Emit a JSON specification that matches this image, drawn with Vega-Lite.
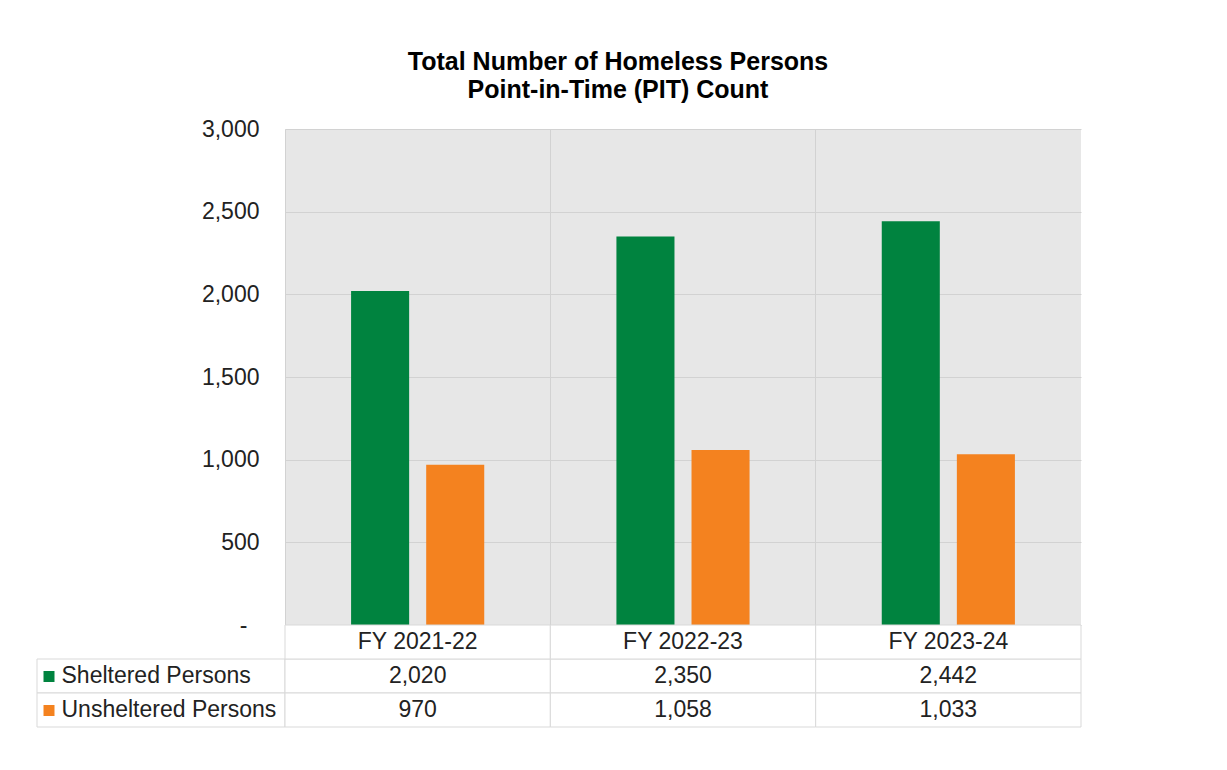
{
  "$schema": "https://vega.github.io/schema/vega-lite/v6.json",
  "padding": {"left": 36, "top": 50, "right": 0, "bottom": 0},
  "background": "white",
  "config": {"font": "Liberation Sans", "view": {"stroke": null}},
  "title": {
    "text": ["Total Number of Homeless Persons", "Point-in-Time (PIT) Count"],
    "fontSize": 25, "fontWeight": "bold", "font": "Liberation Sans", "color": "#000000",
    "anchor": "middle", "dx": 59, "offset": 15, "lineHeight": 28
  },
  "datasets": {
    "pit": [
      {"year": "FY 2021-22", "series": "Sheltered Persons", "value": 2020},
      {"year": "FY 2021-22", "series": "Unsheltered Persons", "value": 970},
      {"year": "FY 2022-23", "series": "Sheltered Persons", "value": 2350},
      {"year": "FY 2022-23", "series": "Unsheltered Persons", "value": 1058},
      {"year": "FY 2023-24", "series": "Sheltered Persons", "value": 2442},
      {"year": "FY 2023-24", "series": "Unsheltered Persons", "value": 1033}
    ],
    "blank": [{"t": ""}]
  },
  "columns": 2,
  "spacing": 0,
  "bounds": "flush",
  "concat": [
    {
      "width": 248, "height": 496,
      "data": {"name": "blank"},
      "mark": {"type": "text"},
      "encoding": {"text": {"field": "t"}}
    },
    {
      "width": 796, "height": 496,
      "data": {"name": "pit"},
      "view": {"fill": "#e7e7e7", "stroke": null},
      "mark": {"type": "bar"},
      "encoding": {
        "x": {"field": "year", "type": "nominal",
              "scale": {"paddingInner": 0, "paddingOuter": 0},
              "axis": {"title": null, "labels": false, "ticks": false, "domain": false,
                       "grid": true, "bandPosition": 0, "gridColor": "#d2d2d2", "gridWidth": 1}},
        "xOffset": {"field": "series", "type": "nominal",
                    "scale": {"paddingInner": 0.227, "paddingOuter": 0.88}},
        "y": {"field": "value", "type": "quantitative",
              "scale": {"domain": [0, 3000], "nice": false},
              "axis": {"title": null, "values": [0, 500, 1000, 1500, 2000, 2500, 3000],
                       "labelExpr": "datum.value == 0 ? '-' : format(datum.value, ',')",
                       "labelFontSize": 23, "labelColor": "#222222",
                       "labelPadding": {"condition": {"test": "datum.value == 0", "value": 38}, "value": 26},
                       "ticks": false, "domain": false, "grid": true,
                       "gridColor": "#d2d2d2", "gridWidth": 1}},
        "color": {"field": "series", "type": "nominal",
                  "scale": {"domain": ["Sheltered Persons", "Unsheltered Persons"],
                            "range": ["#00833F", "#F4821F"]},
                  "legend": null}
      }
    },
    {
      "width": 248, "height": 102,
      "data": {"name": "pit"},
      "transform": [{"filter": "datum.year == 'FY 2021-22'"}],
      "mark": {"type": "rect", "fill": "white", "stroke": "#d9d9d9", "strokeWidth": 1},
      "encoding": {
        "y": {"field": "series", "type": "nominal",
              "scale": {"domain": ["FY", "Sheltered Persons", "Unsheltered Persons"],
                        "paddingInner": 0, "paddingOuter": 0},
              "axis": {"title": null, "domain": false, "grid": false, "offset": -6,
                       "labelExpr": "datum.value == 'FY' ? '' : datum.value",
                       "labelAlign": "left", "labelBaseline": "middle", "labelLimit": 0,
                       "labelPadding": -7, "labelFontSize": 23, "labelColor": "#222222",
                       "ticks": true, "tickSize": -11, "tickWidth": 11,
                       "tickColor": {"condition": {"test": "datum.value == 'Sheltered Persons'", "value": "#00833F"}, "value": "#F4821F"},
                       "tickOpacity": {"condition": {"test": "datum.value == 'FY'", "value": 0}, "value": 1}}}
      }
    },
    {
      "width": 796, "height": 102,
      "data": {"name": "pit"},
      "encoding": {
        "x": {"field": "year", "type": "nominal",
              "scale": {"paddingInner": 0, "paddingOuter": 0}, "axis": null}
      },
      "layer": [
        {
          "mark": {"type": "rect", "fill": "white", "stroke": "#d9d9d9", "strokeWidth": 1},
          "encoding": {
            "y": {"field": "series", "type": "nominal",
                  "scale": {"domain": ["FY", "Sheltered Persons", "Unsheltered Persons"],
                            "paddingInner": 0, "paddingOuter": 0}, "axis": null}
          }
        },
        {
          "transform": [{"filter": "datum.series == 'Sheltered Persons'"}],
          "mark": {"type": "rect", "fill": "white", "stroke": "#d9d9d9", "strokeWidth": 1},
          "encoding": {"y": {"datum": "FY", "type": "nominal", "axis": null}}
        },
        {
          "mark": {"type": "text", "fontSize": 23, "color": "#222222", "baseline": "middle"},
          "encoding": {
            "y": {"field": "series", "type": "nominal", "axis": null},
            "text": {"field": "value", "type": "quantitative", "format": ","}
          }
        },
        {
          "transform": [{"filter": "datum.series == 'Sheltered Persons'"}],
          "mark": {"type": "text", "fontSize": 23, "color": "#222222", "baseline": "middle"},
          "encoding": {
            "y": {"datum": "FY", "type": "nominal", "axis": null},
            "text": {"field": "year", "type": "nominal"}
          }
        }
      ]
    }
  ]
}
